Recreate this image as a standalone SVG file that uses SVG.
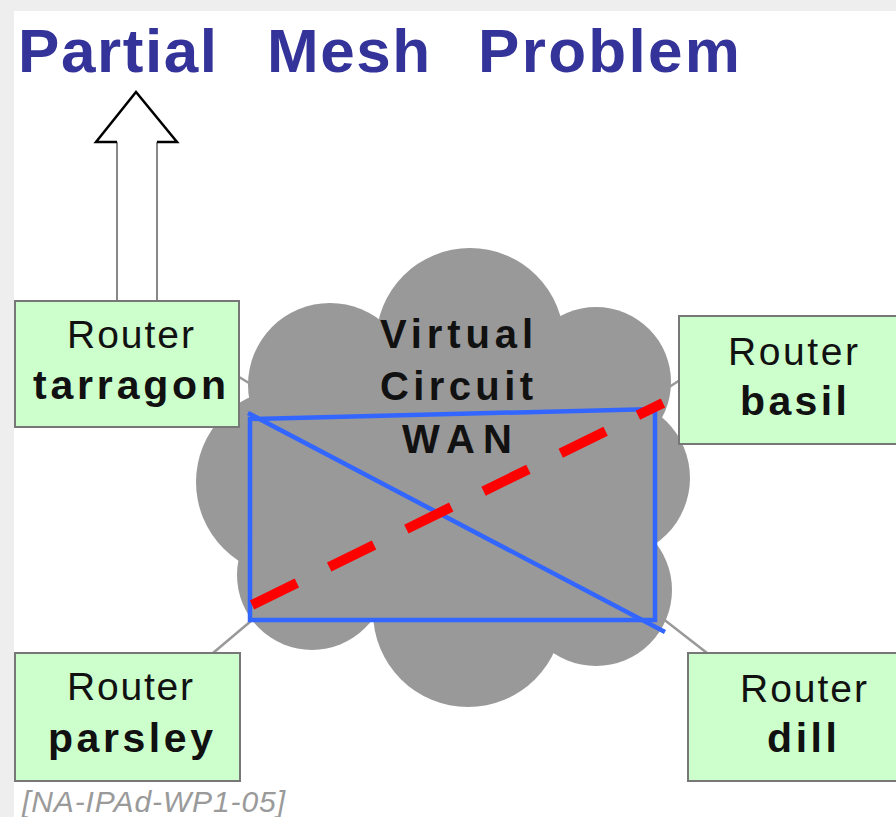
<svg xmlns="http://www.w3.org/2000/svg" width="896" height="817" viewBox="0 0 896 817">
  <defs>
    <style>
      .title { font-family: "Liberation Sans", Arial, sans-serif; font-weight: bold; font-size: 62px; fill: #333399; }
      .box { fill: #ccffcc; stroke: #777777; stroke-width: 2; }
      .lbl { font-family: "Liberation Sans", Arial, sans-serif; font-size: 39px; fill: #111111; }
      .name { font-family: "Liberation Sans", Arial, sans-serif; font-size: 41px; font-weight: bold; fill: #111111; }
      .wan { font-family: "Liberation Sans", Arial, sans-serif; font-size: 40px; font-weight: bold; fill: #111111; }
      .stub { stroke: #999999; stroke-width: 2.5; fill: none; }
      .vc { stroke: #3366ff; stroke-width: 4.5; fill: none; stroke-linecap: square; }
      .broken { stroke: #ff0000; stroke-width: 10; fill: none; stroke-dasharray: 50 36; }
      .ref { font-family: "Liberation Sans", Arial, sans-serif; font-style: italic; font-size: 30px; fill: #9a9a9a; }
    </style>
  </defs>

  <!-- page -->
  <rect x="0" y="0" width="896" height="817" fill="#eeeeee"/>
  <rect x="14" y="11" width="882" height="806" fill="#ffffff"/>

  <!-- heading -->
  <g id="title">
    <text class="title" x="18" y="72" textLength="199" lengthAdjust="spacing">Partial</text>
    <text class="title" x="267" y="72" textLength="163" lengthAdjust="spacing">Mesh</text>
    <text class="title" x="478" y="72" textLength="262" lengthAdjust="spacing">Problem</text>
  </g>

  <!-- WAN cloud -->
  <g id="cloud" fill="#999999">
    <circle cx="470" cy="342" r="94"/>
    <circle cx="330" cy="385" r="82"/>
    <circle cx="596" cy="382" r="75"/>
    <circle cx="290" cy="482" r="94"/>
    <circle cx="312" cy="575" r="75"/>
    <circle cx="468" cy="612" r="95"/>
    <circle cx="596" cy="590" r="76"/>
    <circle cx="610" cy="478" r="80"/>
    <circle cx="460" cy="480" r="150"/>
    <text class="wan" x="380" y="348" textLength="153" lengthAdjust="spacing">Virtual</text>
    <text class="wan" x="380" y="400" textLength="153" lengthAdjust="spacing">Circuit</text>
    <text class="wan" x="402" y="453" textLength="110" lengthAdjust="spacing">WAN</text>
  </g>

  <!-- connectors -->
  <g id="connectors">
    <!-- uplink from tarragon -->
    <path d="M117 300 V142 H96 L136 92 L177 142 H157 V300" fill="#ffffff" stroke="none"/>
    <path d="M117 300 V142 M157 142 V300" stroke="#888888" stroke-width="2" fill="none"/>
    <path d="M117 142 H96 L136 92 L177 142 H157" stroke="#000000" stroke-width="2.5" fill="none" stroke-linejoin="miter"/>

    <!-- access stubs -->
    <line class="stub" x1="239" y1="377" x2="249" y2="383"/>
    <line class="stub" x1="680" y1="380" x2="660" y2="393"/>
    <line class="stub" x1="213" y1="653" x2="251" y2="621"/>
    <line class="stub" x1="662" y1="618" x2="707" y2="653"/>

    <!-- virtual circuits -->
    <path class="vc" d="M250 419 L655 409 L655 620 L250 620 Z"/>
    <line class="vc" x1="250" y1="414" x2="663" y2="631"/>
    <!-- missing circuit parsley-basil -->
    <line class="broken" x1="252" y1="605" x2="663" y2="403"/>
  </g>

  <!-- routers -->
  <g id="tarragon">
    <rect class="box" x="15" y="301" width="224" height="126"/>
    <text class="lbl" x="67" y="348" textLength="127" lengthAdjust="spacing">Router</text>
    <text class="name" x="33" y="399" textLength="193" lengthAdjust="spacing">tarragon</text>
  </g>
  <g id="basil">
    <rect class="box" x="679" y="316" width="230" height="128"/>
    <text class="lbl" x="728" y="365" textLength="130" lengthAdjust="spacing">Router</text>
    <text class="name" x="740" y="415" textLength="107" lengthAdjust="spacing">basil</text>
  </g>
  <g id="parsley">
    <rect class="box" x="15" y="653" width="225" height="128"/>
    <text class="lbl" x="67" y="700" textLength="126" lengthAdjust="spacing">Router</text>
    <text class="name" x="48" y="752" textLength="165" lengthAdjust="spacing">parsley</text>
  </g>
  <g id="dill">
    <rect class="box" x="688" y="653" width="220" height="128"/>
    <text class="lbl" x="740" y="702" textLength="127" lengthAdjust="spacing">Router</text>
    <text class="name" x="767" y="752" textLength="70" lengthAdjust="spacing">dill</text>
  </g>

  <text class="ref" x="22" y="812" textLength="263" lengthAdjust="spacing">[NA-IPAd-WP1-05]</text>
</svg>
